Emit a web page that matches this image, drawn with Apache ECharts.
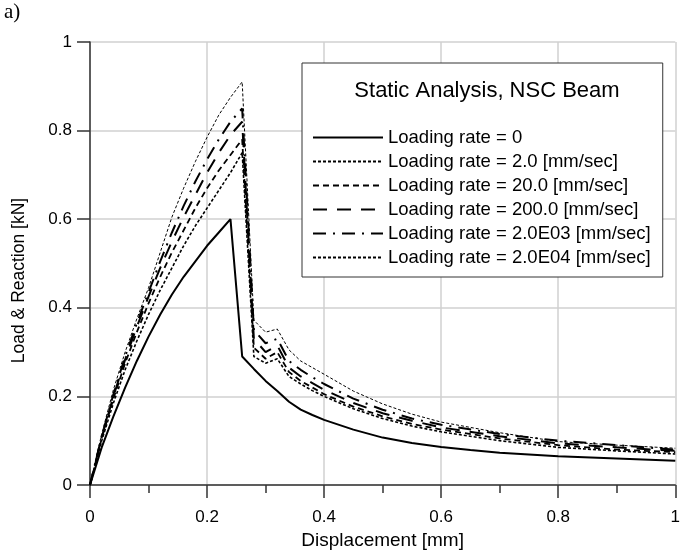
<!DOCTYPE html>
<html>
<head>
<meta charset="utf-8">
<script src="https://cdn.jsdelivr.net/npm/echarts@6/dist/echarts.min.js"></script>
<style>
  html, body { margin: 0; padding: 0; background: #fff; }
  #chart { width: 683px; height: 555px; }
</style>
</head>
<body>
<div id="chart"></div>
<script>
// displacement [mm] for the static case (peak sits at 0.24)
const dispStatic = [0, 0.02, 0.04, 0.06, 0.08, 0.10, 0.12, 0.14, 0.16, 0.18, 0.20, 0.22, 0.24,
    0.26, 0.28, 0.30, 0.32, 0.34, 0.36, 0.38, 0.40, 0.45, 0.50, 0.55, 0.60, 0.65, 0.70, 0.80, 0.90, 1.0];
const rate0 = [0, 0.085, 0.155, 0.22, 0.28, 0.335, 0.385, 0.43, 0.47, 0.505, 0.54, 0.57, 0.60,
    0.29, 0.262, 0.235, 0.212, 0.188, 0.17, 0.158, 0.147, 0.125, 0.107, 0.095, 0.086, 0.079, 0.073, 0.065, 0.06, 0.055];

// displacement [mm] for the rate cases (peak sits at 0.26)
const dispRate = [0, 0.02, 0.04, 0.06, 0.08, 0.10, 0.12, 0.14, 0.16, 0.18, 0.20, 0.22, 0.24, 0.26,
    0.28, 0.30, 0.32, 0.34, 0.36, 0.38, 0.40, 0.45, 0.50, 0.55, 0.60, 0.70, 0.80, 0.90, 1.0];
const rate2 = [0, 0.1, 0.185, 0.26, 0.325, 0.385, 0.44, 0.49, 0.54, 0.585, 0.625, 0.665, 0.705, 0.75,
    0.29, 0.275, 0.285, 0.245, 0.228, 0.213, 0.2, 0.172, 0.15, 0.133, 0.12, 0.1, 0.085, 0.077, 0.07];
const rate20 = [0, 0.105, 0.195, 0.275, 0.345, 0.41, 0.47, 0.525, 0.575, 0.625, 0.67, 0.71, 0.745, 0.78,
    0.31, 0.285, 0.3, 0.255, 0.235, 0.22, 0.205, 0.177, 0.155, 0.138, 0.125, 0.105, 0.09, 0.08, 0.074];
const rate200 = [0, 0.108, 0.2, 0.283, 0.357, 0.425, 0.49, 0.55, 0.605, 0.655, 0.705, 0.75, 0.79, 0.82,
    0.33, 0.3, 0.315, 0.265, 0.245, 0.23, 0.215, 0.185, 0.162, 0.145, 0.13, 0.11, 0.094, 0.085, 0.077];
const rate2e3 = [0, 0.11, 0.205, 0.29, 0.365, 0.435, 0.505, 0.57, 0.63, 0.685, 0.735, 0.78, 0.82, 0.85,
    0.35, 0.32, 0.33, 0.28, 0.26, 0.243, 0.228, 0.195, 0.17, 0.15, 0.136, 0.115, 0.1, 0.09, 0.08];
const rate2e4 = [0, 0.115, 0.215, 0.3, 0.375, 0.445, 0.525, 0.605, 0.67, 0.73, 0.785, 0.835, 0.875, 0.91,
    0.372, 0.345, 0.352, 0.305, 0.28, 0.265, 0.25, 0.212, 0.183, 0.16, 0.142, 0.118, 0.098, 0.09, 0.083];

const names = [
    'Loading rate = 0',
    'Loading rate = 2.0 [mm/sec]',
    'Loading rate = 20.0 [mm/sec]',
    'Loading rate = 200.0 [mm/sec]',
    'Loading rate = 2.0E03 [mm/sec]',
    'Loading rate = 2.0E04 [mm/sec]'
];

const pairs = (xs, ys) => xs.map((x, i) => [x, ys[i]]);

const chart = echarts.init(document.getElementById('chart'), null, { renderer: 'canvas' });

function lineSeries(name, data, width, type) {
    return {
        name: name,
        type: 'line',
        data: data,
        symbol: 'none',
        smooth: false,
        lineStyle: { color: '#000', width: width, type: type },
        itemStyle: { color: '#000' }
    };
}

const font = 'Liberation Sans';
const tickFmt = v => String(+v.toFixed(1));

chart.setOption({
    animation: false,
    textStyle: { fontFamily: font, color: '#000' },
    grid: { left: 90, right: 3, top: 42, bottom: 70 },
    title: {
        text: 'Static Analysis, NSC Beam',
        left: 482,
        top: 75,
        textAlign: 'center',
        textStyle: { fontFamily: font, fontSize: 22, fontWeight: 'normal', color: '#000' }
    },
    legend: {
        left: 302,
        top: 63,
        orient: 'vertical',
        align: 'left',
        itemWidth: 70,
        itemHeight: 14,
        itemGap: 5,
        padding: [65, 12, 10, 10],
        borderColor: '#333',
        borderWidth: 1,
        backgroundColor: '#fff',
        itemStyle: { color: 'rgba(0,0,0,0)', borderWidth: 0, borderColor: 'rgba(0,0,0,0)' },
        textStyle: { fontFamily: font, fontSize: 18.5, color: '#000' },
        data: names
    },
    graphic: [{
        type: 'text',
        left: 4,
        top: 2,
        style: { text: 'a)', font: '21px "Liberation Serif"', fill: '#000' }
    }],
    xAxis: {
        type: 'value',
        min: 0,
        max: 1,
        interval: 0.2,
        name: 'Displacement [mm]',
        nameLocation: 'middle',
        nameGap: 46,
        nameTextStyle: { fontFamily: font, fontSize: 19, color: '#000' },
        axisLine: { onZero: false, lineStyle: { color: '#333', width: 1.5 } },
        axisTick: { show: true, inside: false, length: 13, lineStyle: { color: '#333', width: 1.5 } },
        minorTick: { show: true, splitNumber: 2, length: 8, lineStyle: { color: '#333', width: 1.5 } },
        axisLabel: { margin: 24, fontSize: 17, color: '#000', formatter: tickFmt },
        splitLine: { show: true, lineStyle: { color: '#d0d0d0', width: 1.5 } }
    },
    yAxis: {
        type: 'value',
        min: 0,
        max: 1,
        interval: 0.2,
        name: 'Load & Reaction [kN]',
        nameLocation: 'middle',
        nameGap: 62,
        nameTextStyle: { fontFamily: font, fontSize: 17.5, color: '#000', padding: [0, 34, 0, 0] },
        axisLine: { show: true, onZero: false, lineStyle: { color: '#333', width: 1.5 } },
        axisTick: { show: true, inside: false, length: 13, lineStyle: { color: '#333', width: 1.5 } },
        axisLabel: { margin: 18, fontSize: 17, color: '#000', formatter: tickFmt },
        splitLine: { show: true, lineStyle: { color: '#d0d0d0', width: 1.5 } }
    },
    series: [
        lineSeries(names[0], pairs(dispStatic, rate0), 2, 'solid'),
        lineSeries(names[1], pairs(dispRate, rate2), 1.6, [3, 2]),
        lineSeries(names[2], pairs(dispRate, rate20), 1.8, [6, 4]),
        lineSeries(names[3], pairs(dispRate, rate200), 2, [14, 10]),
        lineSeries(names[4], pairs(dispRate, rate2e3), 2, [13, 7, 2, 7]),
        lineSeries(names[5], pairs(dispRate, rate2e4), 1, [3, 2])
    ]
});
</script>
</body>
</html>
